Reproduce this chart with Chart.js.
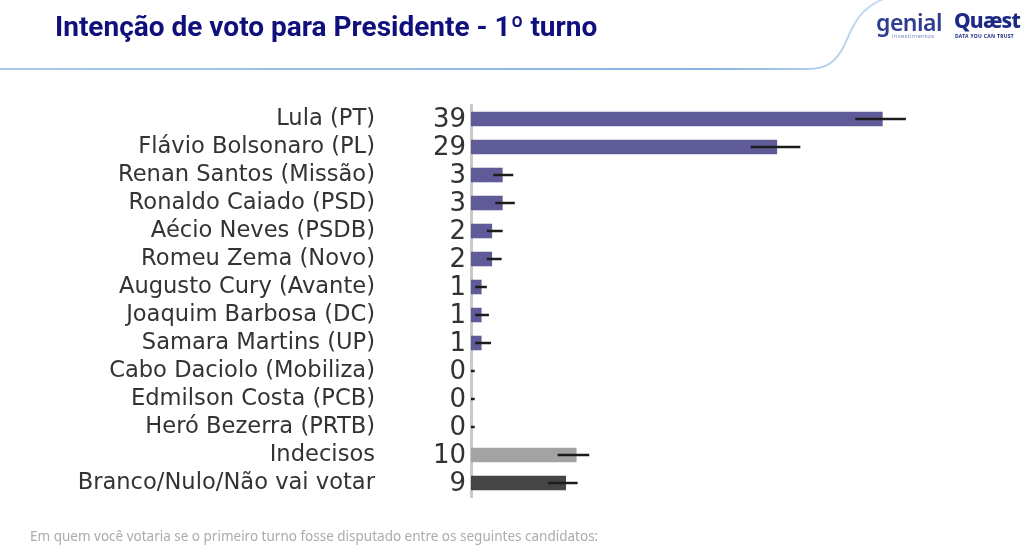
<!DOCTYPE html>
<html>
<head>
<meta charset="utf-8">
<script src="https://cdn.jsdelivr.net/npm/chart.js@4"></script>
<style>
  html, body { margin: 0; padding: 0; background: #fff; }
  #wrap { position: relative; width: 1024px; height: 553px; overflow: hidden; }
  #chart { position: absolute; left: 0; top: 0; }
  .title { position: absolute; left: 55px; top: 10px; font-family: Roboto, sans-serif; font-weight: 700;
           font-size: 28px; color: #10107c; white-space: nowrap; }
  .footer { position: absolute; left: 30px; top: 527px; font-family: "Noto Sans", sans-serif; font-size: 13.5px;
            color: #ababab; white-space: nowrap; }
  .genial { position: absolute; left: 876px; top: 6px; font-family: "Noto Sans", sans-serif; font-weight: 600;
            font-size: 23px; color: #2e3d8f; letter-spacing: -0.5px; }
  .genial small { position: absolute; left: 16px; top: 26px; font-size: 6px; color: #7d8fc0; letter-spacing: 0.2px; font-weight: 400; }
  .quaest { position: absolute; left: 954px; top: 6px; font-family: "Noto Sans", sans-serif; font-weight: 800;
            font-size: 21px; color: #1c2a86; letter-spacing: -0.8px; }
  .quaest small { position: absolute; left: 1px; top: 27px; font-size: 5px; color: #1c2a86; letter-spacing: 0.3px; font-weight: 700; white-space: nowrap; }
  svg.head { position: absolute; left: 0; top: 0; }
</style>
</head>
<body>
<div id="wrap">
  <canvas id="chart" width="1024" height="553"></canvas>
  <svg class="head" width="1024" height="80">
    <defs>
      <linearGradient id="lg" x1="0" x2="1" y1="0" y2="0">
        <stop offset="0" stop-color="#a9c9ec"/>
        <stop offset="0.8" stop-color="#86b3e2"/>
        <stop offset="1" stop-color="#c9def3"/>
      </linearGradient>
    </defs>
    <path d="M0,69 L808,69 C826,69 836,62 844,46 C852,28 858,8 886,-2" fill="none" stroke="url(#lg)" stroke-width="2"/>
  </svg>
  <div class="title">Intenção de voto para Presidente - 1º turno</div>
  <div class="genial">genial<small>investimentos</small></div>
  <div class="quaest">Quæst<small>DATA YOU CAN TRUST</small></div>
  <div class="footer">Em quem você votaria se o primeiro turno fosse disputado entre os seguintes candidatos:</div>
</div>
<script>
const candidates = [
  "Lula (PT)", "Flávio Bolsonaro (PL)", "Renan Santos (Missão)", "Ronaldo Caiado (PSD)",
  "Aécio Neves (PSDB)", "Romeu Zema (Novo)", "Augusto Cury (Avante)", "Joaquim Barbosa (DC)",
  "Samara Martins (UP)", "Cabo Daciolo (Mobiliza)", "Edmilson Costa (PCB)", "Heró Bezerra (PRTB)",
  "Indecisos", "Branco/Nulo/Não vai votar"
];
const votes = [39, 29, 3, 3, 2, 2, 1, 1, 1, 0, 0, 0, 10, 9];
const errLow = [36.4, 26.5, 2.1, 2.3, 1.5, 1.5, 0.4, 0.4, 0.4, 0, 0, 0, 8.2, 7.3];
const errHigh = [41.2, 31.2, 4.0, 4.15, 3.0, 2.9, 1.5, 1.7, 1.9, 0.35, 0.35, 0.35, 11.2, 10.1];
const barColors = [
  "#5f5b98", "#5f5b98", "#5f5b98", "#5f5b98", "#5f5b98", "#5f5b98", "#5f5b98",
  "#5f5b98", "#5f5b98", "#5f5b98", "#5f5b98", "#5f5b98", "#a3a3a3", "#454545"
];

// error bars: horizontal lines without caps
const errorBars = {
  id: "errorBars",
  afterDatasetsDraw(chart) {
    const { ctx, scales: { x, y } } = chart;
    ctx.save();
    ctx.strokeStyle = "#1c1c1c";
    ctx.lineWidth = 2.5;
    ctx.lineCap = "butt";
    errLow.forEach((lo, i) => {
      const py = y.getPixelForValue(i);
      ctx.beginPath();
      ctx.moveTo(x.getPixelForValue(lo), py);
      ctx.lineTo(x.getPixelForValue(errHigh[i]), py);
      ctx.stroke();
    });
    ctx.restore();
  }
};

// big value numbers next to the axis
const valueLabels = {
  id: "valueLabels",
  afterDraw(chart) {
    const { ctx, scales: { x, y } } = chart;
    ctx.save();
    ctx.font = "26px 'DejaVu Sans', sans-serif";
    ctx.fillStyle = "#333333";
    ctx.textAlign = "right";
    ctx.textBaseline = "middle";
    votes.forEach((v, i) => {
      ctx.fillText(String(v), x.left - 5, y.getPixelForValue(i) + 1);
    });
    ctx.restore();
  }
};

new Chart(document.getElementById("chart"), {
  type: "bar",
  plugins: [errorBars, valueLabels],
  data: {
    labels: candidates,
    datasets: [{
      data: votes,
      backgroundColor: barColors,
      barPercentage: 0.52,
      categoryPercentage: 1
    }]
  },
  options: {
    indexAxis: "y",
    responsive: false,
    animation: false,
    layout: { padding: { left: 0, right: 78, top: 105, bottom: 56 } },
    plugins: { legend: { display: false }, tooltip: { enabled: false } },
    scales: {
      x: { display: false, min: 0, max: 45 },
      y: {
        grid: { display: false },
        border: { display: true, color: "#c9c9c9", width: 3 },
        afterFit(scale) {
          // big tick padding would otherwise eat vertical room
          scale.width = 471;
          scale.paddingTop = 0;
          scale.paddingBottom = 0;
        },
        ticks: {
          autoSkip: false,
          padding: 88,
          color: "#333333",
          font: { family: "'DejaVu Sans', sans-serif", size: 22.6 }
        }
      }
    }
  }
});
</script>
</body>
</html>
